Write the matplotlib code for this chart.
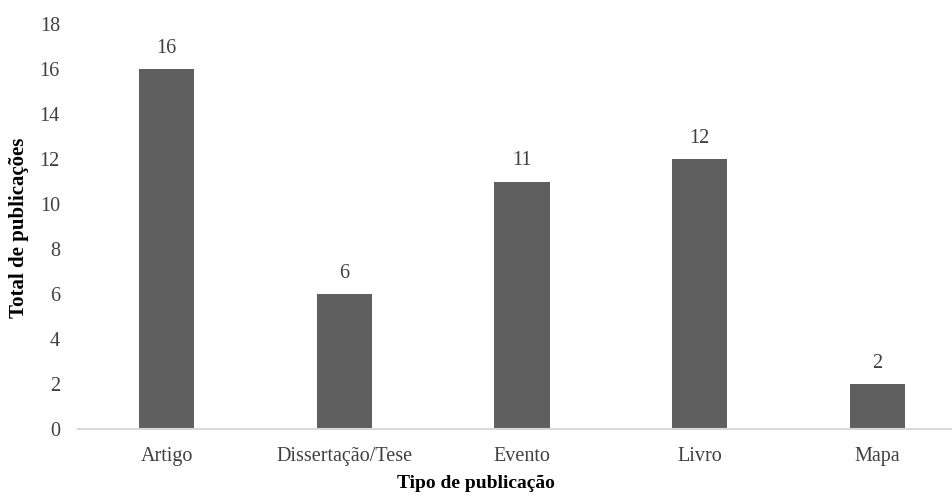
import matplotlib
matplotlib.use("Agg")
import matplotlib.pyplot as plt

categories = ["Artigo", "Dissertação/Tese", "Evento", "Livro", "Mapa"]
values = [16, 6, 11, 12, 2]
yticks = [0, 2, 4, 6, 8, 10, 12, 14, 16, 18]

plt.rcParams['font.family'] = ['Liberation Serif', 'DejaVu Serif']

W, H = 953, 496
fig = plt.figure(figsize=(W/100, H/100), dpi=100)
left, right, bottom, top = 78, 966, 429, 24
ax = fig.add_axes([left/W, 1 - bottom/H, (right-left)/W, (bottom-top)/H])

x = range(len(categories))
bars = ax.bar(x, values, width=0.31, color="#5f5f5f")
for xi, v in zip(x, values):
    ax.text(xi, v + 0.5, str(v), ha="center", va="bottom", fontsize=14.5, color="#404040")

ax.set_xlim(-0.5, len(categories) - 0.5)
ax.set_ylim(0, 18)
ax.set_yticks(yticks)
ax.set_xticks(list(x))
ax.set_xticklabels(categories)
ax.tick_params(axis="both", length=0, labelsize=14.5, colors="#404040")
ax.tick_params(axis="y", pad=13)
ax.tick_params(axis="x", pad=13)
for s in ["top", "right", "left"]:
    ax.spines[s].set_visible(False)
ax.spines["bottom"].set_color("#d9d9d9")
ax.spines["bottom"].set_linewidth(1.5)

fig.text(19/W, 1 - 228/H, "Total de publicações", rotation=90, ha="center", va="center",
         fontsize=15, fontweight="bold", color="black")
fig.text(476/W, 1 - 484/H, "Tipo de publicação", ha="center", va="center",
         fontsize=14, fontweight="bold", color="black")

fig.savefig("out.png", dpi=100)
